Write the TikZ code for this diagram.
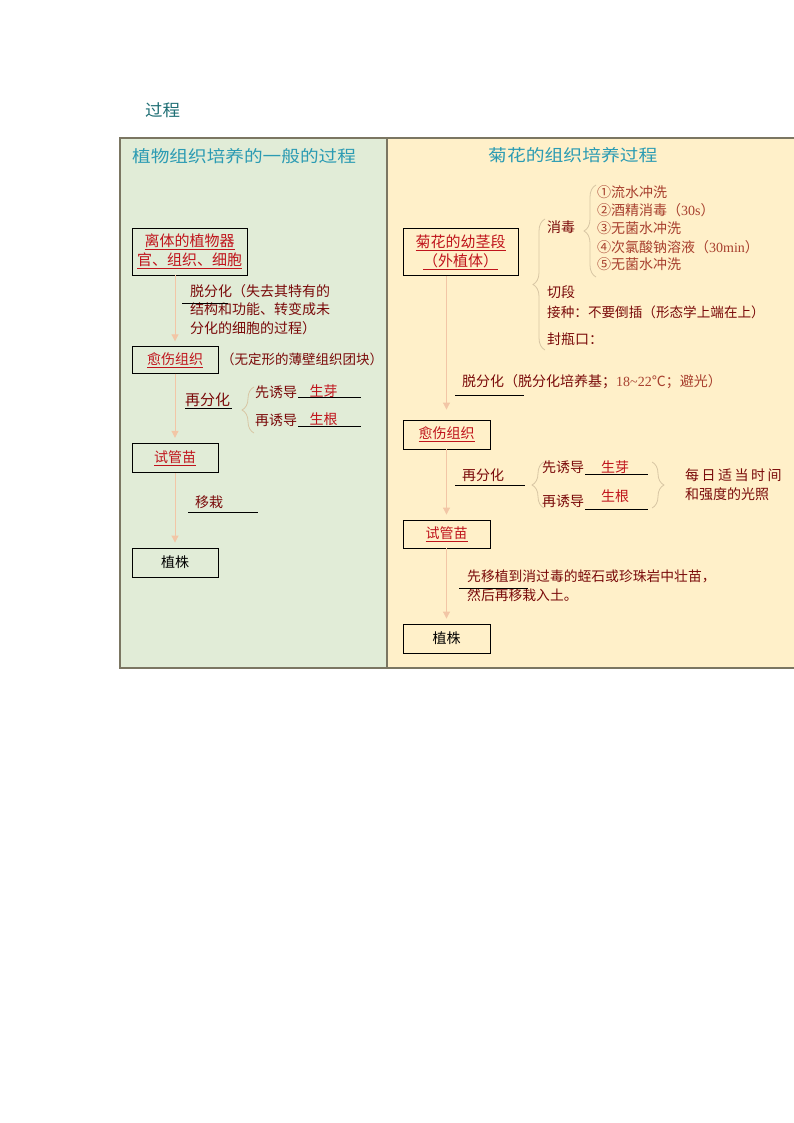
\documentclass[tikz,border=0pt]{standalone}
\usepackage{fontspec}
\setmainfont{Noto Sans CJK SC}
\newfontfamily\serifnum{Liberation Serif}
\usetikzlibrary{arrows.meta,decorations.pathreplacing}

\definecolor{bggreen}{HTML}{E1ECD7}
\definecolor{bgcream}{HTML}{FFF0C9}
\definecolor{framec}{HTML}{7B7662}
\definecolor{tealA}{HTML}{2B9BB3}
\definecolor{tealB}{HTML}{1E6E74}
\definecolor{boxred}{HTML}{C0141C}
\definecolor{maroonc}{HTML}{7A0A0A}
\definecolor{brownred}{HTML}{A8402F}
\definecolor{arrowc}{HTML}{F2C6A6}
\definecolor{bracec}{HTML}{D8C6A4}

\tikzset{
  stagebox/.style={draw=black, line width=0.9pt, inner sep=0pt, align=center,
    minimum width=86pt, text=boxred, font=\fontsize{14}{19}\selectfont},
  lbl/.style={anchor=west, inner sep=0pt, text=maroonc, align=left,
    font=\fontsize{14}{18.5}\selectfont},
  ans/.style={inner sep=0pt, text=boxred, font=\fontsize{14}{16}\selectfont},
  titletxt/.style={anchor=west, inner sep=0pt, text=tealA, font=\fontsize{16.5}{18}\selectfont},
  flowarrow/.style={draw=arrowc, line width=1pt, -{Triangle[width=7pt,length=7pt]}, shorten >=5pt},
  brc/.style={draw=bracec, line width=0.8pt, decorate, decoration={brace, amplitude=12pt}},
  blank/.style={draw=black, line width=0.8pt}
}

\begin{document}
\begin{tikzpicture}[x=1pt,y=-1pt]
\useasboundingbox (0,0) rectangle (794,1123);

% panels
\fill[bggreen] (120,138) rectangle (387,668);
\fill[bgcream] (387,138) rectangle (794,668);
\draw[framec, line width=1.3pt] (794,138) -- (120,138) -- (120,668) -- (794,668);
\draw[framec, line width=1.3pt] (387,138) -- (387,668);

% headings
\node[titletxt, text=tealB] (hd) at (145,110) {\scalebox{1.06}[1]{过程}};
\node[titletxt] (tl) at (132,156) {\scalebox{1.13}[1]{植物组织培养的一般的过程}};
\node[titletxt] (tr) at (488,155) {\scalebox{1.14}[1]{菊花的组织培养过程}};

% ---------- left panel ----------
\node[stagebox, minimum width=115pt, minimum height=47pt, font=\fontsize{15}{19}\selectfont]
  (b1) at (189.5,251.5) {\underline{离体的植物器}\\\underline{官、组织、细胞}};
\node[stagebox, minimum height=26.5pt] (b2) at (175,360) {\underline{愈伤组织}};
\node[stagebox, minimum height=29.5pt] (b3) at (175,458) {\underline{试管苗}};
\node[stagebox, minimum height=29pt, text=black] (b4) at (175,562.5) {植株};

\draw[flowarrow] (b2.north |- b1.south) -- (b2.north);
\draw[flowarrow] (b2.south) -- (b3.north);
\draw[flowarrow] (b3.south) -- (b4.north);

\node[lbl, anchor=north west] (l1) at (190,284) {脱分化（失去其特有的\\结构和功能、转变成未\\分化的细胞的过程）};
\draw[blank] (182,303) -- (228,303);
\node[lbl, font=\fontsize{13.5}{16}\selectfont] (l2) at (221,359) {（无定形的薄壁组织团块）};

\node[lbl, font=\fontsize{15}{16}\selectfont] (l3) at (185,400) {再分化};
\draw[blank] (185,408) -- (232,408);
\draw[brc] (254,433) -- (254,387);
\node[lbl] (l4) at (255,392) {先诱导};
\draw[blank] (298,397) -- (361,397);
\node[ans] (l4a) at (323.5,391) {生芽};
\node[lbl] (l5) at (255,420) {再诱导};
\draw[blank] (298,426) -- (361,426);
\node[ans] (l5a) at (323.5,419) {生根};

\node[lbl] (l6) at (195,502) {移栽};
\draw[blank] (188,512) -- (258,512);

% ---------- right panel ----------
\node[stagebox, minimum width=115pt, minimum height=47pt, font=\fontsize{15}{19}\selectfont]
  (r1) at (460.5,252) {\underline{菊花的幼茎段}\\\underline{（外植体）}};
\node[stagebox, minimum width=87pt, minimum height=29pt] (r2) at (446.5,434.5) {\underline{愈伤组织}};
\node[stagebox, minimum width=87pt, minimum height=28pt] (r3) at (446.5,534) {\underline{试管苗}};
\node[stagebox, minimum width=87pt, minimum height=29pt, text=black] (r4) at (446.5,638.5) {植株};

\draw[flowarrow, shorten >=10pt] (r2.north |- r1.south) -- (r2.north);
\draw[flowarrow] (r2.south) -- (r3.north);
\draw[flowarrow] (r3.south) -- (r4.north);

% disinfection steps
\draw[brc] (545,350) -- (545,219);
\node[lbl] (x1) at (547,227) {消毒};
\draw[brc] (596,277) -- (596,185);
\begin{scope}[every node/.style={lbl, text=brownred}]
\node (s1) at (597,192) {①流水冲洗};
\node (s2) at (597,210) {②酒精消毒（{\serifnum 30s}）};
\node (s3) at (597,228) {③无菌水冲洗};
\node (s4) at (597,247) {④次氯酸钠溶液（{\serifnum 30min}）};
\node (s5) at (597,264) {⑤无菌水冲洗};
\end{scope}
\node[lbl] (x2) at (547,292) {切段};
\node[lbl, font=\fontsize{13.6}{16}\selectfont] (x3) at (547,312) {接种：不要倒插（形态学上端在上）};
\node[lbl] (x4) at (547,339) {封瓶口：};

\node[lbl] (x5) at (462,382) {脱分化（脱分化培养基；\textcolor{brownred}{{\serifnum 18\char"7E 22}℃；避光）}};
\draw[blank] (455,395) -- (524,395);

\node[lbl] (x6) at (462,475) {再分化};
\draw[blank] (455,485) -- (525,485);
\draw[brc] (544,508) -- (544,462);
\node[lbl] (x7) at (542,467) {先诱导};
\draw[blank] (585,474) -- (648,474);
\node[ans] (x7a) at (615,467) {生芽};
\node[lbl] (x8) at (542,501) {再诱导};
\draw[blank] (585,509) -- (648,509);
\node[ans] (x8a) at (615,496) {生根};
\draw[brc] (652,462) -- (652,508);
\node[lbl] (x9) at (685,475) {每\kern2.5pt 日\kern2.5pt 适\kern2.5pt 当\kern2.5pt 时\kern2.5pt 间};
\node[lbl] (x10) at (685,494) {和强度的光照};

\node[lbl, anchor=north west, font=\fontsize{13.8}{19}\selectfont] (x11) at (467,570) {先移植到消过毒的蛭石或珍珠岩中壮苗，\\然后再移栽入土。};
\draw[blank] (459,588) -- (528,588);
\end{tikzpicture}
\end{document}
